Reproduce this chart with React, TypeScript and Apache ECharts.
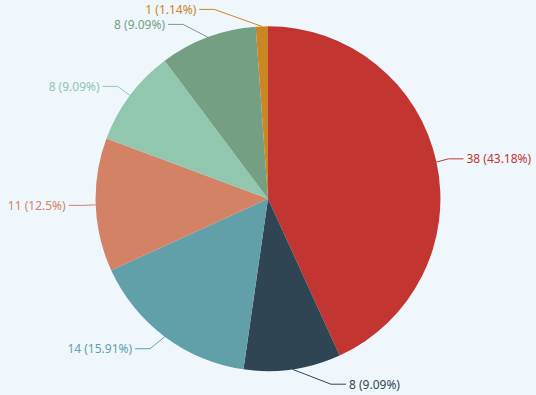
import React, { useEffect, useRef } from "react";
import * as echarts from "echarts";

const values = [38, 8, 14, 11, 8, 8, 1];
const names = ["A", "B", "C", "D", "E", "F", "G"];
const colors = ["#c23531", "#2f4554", "#61a0a8", "#d48265", "#91c7ae", "#749f83", "#ca8622"];

const RADIUS_PCT = 0.873;
const CENTER_Y_PCT = 0.503;
const LEN1 = 15;
const LEN2 = 15;
const MIN_GAP = 15;

export default function App() {
  const ref = useRef<HTMLDivElement>(null);
  useEffect(() => {
    const chart = echarts.init(ref.current!, undefined, { renderer: "svg" });
    const total = values.reduce((a, b) => a + b, 0);

    const geom = () => {
      const w = chart.getWidth();
      const h = chart.getHeight();
      const cx = w / 2;
      const cy = h * CENTER_Y_PCT;
      const r = (RADIUS_PCT * Math.min(w, h)) / 2;
      const items = values.map((v, i) => {
        let before = 0;
        for (let k = 0; k < i; k++) before += values[k];
        const mid = ((before + v / 2) / total) * Math.PI * 2;
        const s = Math.sin(mid);
        const c = Math.cos(mid);
        return { i, s, c, dir: s >= 0 ? 1 : -1, y: cy - (r + LEN1) * c };
      });
      [1, -1].forEach((d) => {
        const side = items.filter((it) => it.dir === d).sort((a, b) => a.y - b.y);
        for (let k = side.length - 2; k >= 0; k--) {
          const deficit = MIN_GAP - (side[k + 1].y - side[k].y);
          if (deficit > 0) {
            side[k].y -= deficit * 0.6;
            side[k + 1].y += deficit * 0.4;
          }
        }
      });
      return { cx, cy, r, items };
    };

    const labelLayout = (params: any) => {
      const { cx, cy, r, items } = geom();
      const it = items[params.dataIndex];
      const sx = cx + r * it.s;
      const sy = cy - r * it.c;
      const y = it.y;
      const dy = Math.abs(y - cy);
      const R = r + LEN1 + LEN2;
      const dx = Math.sqrt(Math.max(R * R - dy * dy, 0));
      const dir = it.dir;
      const textX = cx + dir * dx;
      const lineEnd = textX - dir * 3;
      const turn = lineEnd - dir * LEN2;
      return {
        x: textX,
        y: y,
        align: dir > 0 ? "left" : "right",
        verticalAlign: "middle",
        labelLinePoints: [
          [sx, sy],
          [turn, y],
          [lineEnd, y],
        ],
      };
    };
    chart.setOption({
      animation: false,
      backgroundColor: "#eff7fd",
      color: colors,
      textStyle: { fontFamily: "'Noto Sans', sans-serif" },
      series: [
        {
          type: "pie",
          center: ["50%", CENTER_Y_PCT * 100 + "%"],
          radius: RADIUS_PCT * 100 + "%",
          startAngle: 90,
          data: values.map((v, i) => ({
            name: names[i],
            value: v,
            label: { color: colors[i] },
          })),
          label: {
            formatter: "{c} ({d}%)",
            fontSize: 12,
            lineHeight: 11,
            overflow: "none",
            fontFamily: "'Noto Sans', sans-serif",
          },
          labelLine: { show: true, length: LEN1, length2: LEN2, smooth: false },
          labelLayout: labelLayout,
        },
      ],
    });
    return () => chart.dispose();
  }, []);
  return (
    <div
      ref={ref}
      style={{ position: "absolute", left: 0, top: 0, width: 536, height: 395 }}
    />
  );
}
